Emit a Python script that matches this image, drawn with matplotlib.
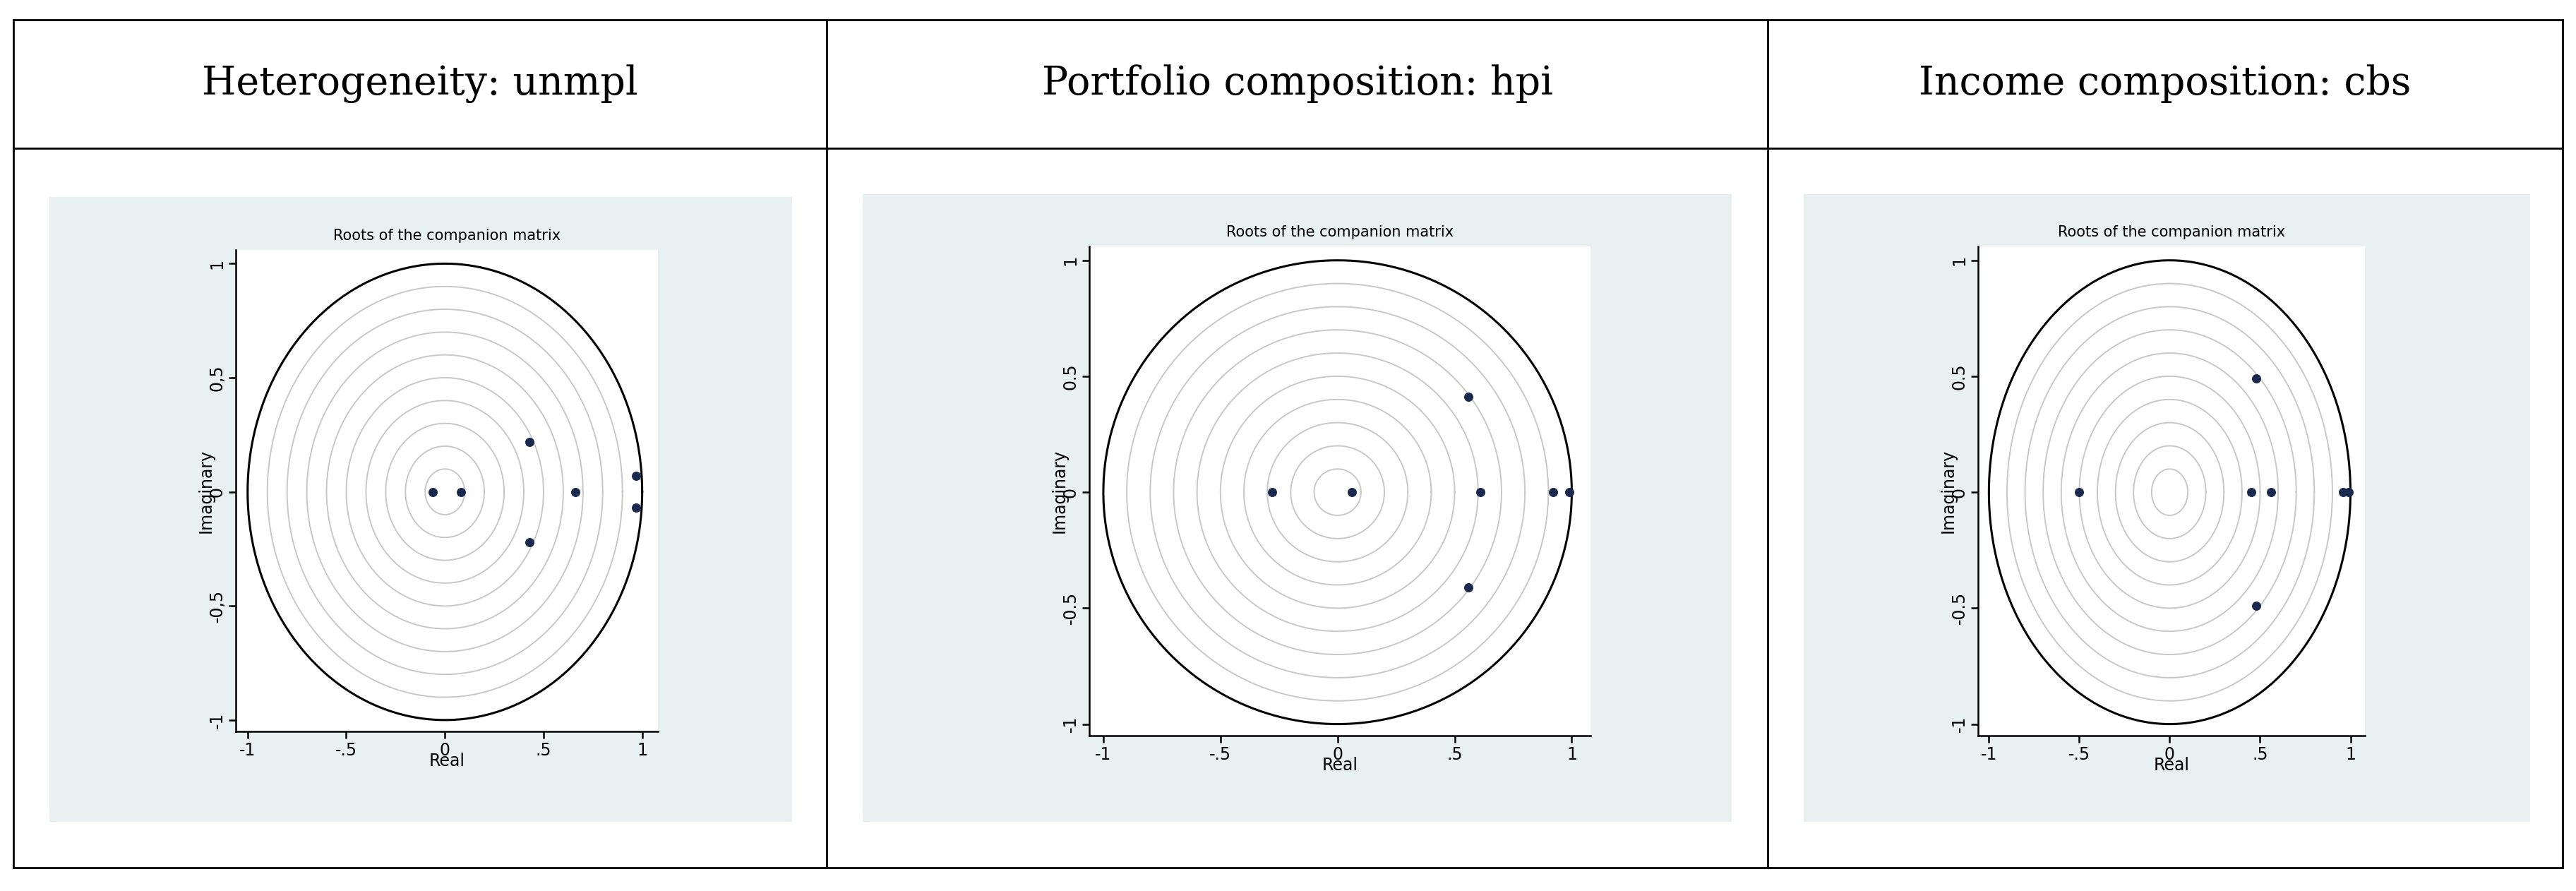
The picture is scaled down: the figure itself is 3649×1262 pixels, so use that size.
import numpy as np
import matplotlib.pyplot as plt

W, H = 3649, 1262
headers = ['Heterogeneity: unmpl', 'Portfolio composition: hpi', 'Income composition: cbs']

# eigenvalue roots (real, imaginary)
re1 = [-0.06, 0.08, 0.43, 0.43, 0.66, 0.97, 0.97]
im1 = [0.0, 0.0, 0.22, -0.22, 0.0, 0.07, -0.07]
re2 = [-0.28, 0.06, 0.56, 0.56, 0.61, 0.92, 0.99]
im2 = [0.0, 0.0, 0.41, -0.41, 0.0, 0.0, 0.0]
re3 = [-0.50, 0.45, 0.48, 0.48, 0.56, 0.96, 0.99]
im3 = [0.0, 0.0, 0.49, -0.49, 0.0, 0.0, 0.0]
roots = [(re1, im1), (re2, im2), (re3, im3)]

ytick_labels = [['-1', '-0,5', '0', '0,5', '1'],
                ['-1', '-0.5', '0', '0.5', '1'],
                ['-1', '-0.5', '0', '0.5', '1']]
xtick_labels = ['-1', '-.5', '0', '.5', '1']

fig = plt.figure(figsize=(W / 100, H / 100), dpi=100)

def box(x0, y0, x1, y1):
    # pixel box (top-left origin) -> figure fraction
    return [x0 / W, 1 - y1 / H, (x1 - x0) / W, (y1 - y0) / H]

# table grid
cols = [19, 1171, 2504, 3630]
top, mid, bot = 28, 210, 1229
for x in cols:
    fig.add_artist(plt.Line2D([x / W] * 2, [1 - top / H, 1 - bot / H], color='black', lw=2))
for y in (top, mid, bot):
    fig.add_artist(plt.Line2D([cols[0] / W, cols[-1] / W], [1 - y / H] * 2, color='black', lw=2))
for i, t in enumerate(headers):
    fig.text((cols[i] + cols[i + 1]) / 2 / W, 1 - (top + mid) / 2 / H, t,
             ha='center', va='center', fontsize=40, family='DejaVu Serif')

grey = [(70, 279, 1122, 1164), (1222, 275, 2453, 1164), (2555, 275, 3584, 1164)]
white = [(334, 354, 932, 1036), (1543, 349, 2253, 1042), (2802, 349, 3350, 1042)]

th = np.linspace(0, 2 * np.pi, 400)
for k in range(3):
    g = fig.add_axes(box(*grey[k]))
    g.set_facecolor('#e9f0f2')
    g.set_xticks([]); g.set_yticks([])
    for s in g.spines.values():
        s.set_visible(False)

    ax = fig.add_axes(box(*white[k]))
    for r in np.arange(0.1, 1.0, 0.1):
        ax.plot(r * np.cos(th), r * np.sin(th), color='#c8c8c8', lw=1.4)
    ax.plot(np.cos(th), np.sin(th), color='black', lw=2.2)
    ax.scatter(roots[k][0], roots[k][1], s=70, color='#1a2a4f', zorder=3)
    ax.set_xlim(-1.06, 1.08)
    ax.set_ylim(-1.05, 1.06)
    ax.set_xticks([-1, -0.5, 0, 0.5, 1])
    ax.set_xticklabels(xtick_labels, fontsize=17)
    ax.set_yticks([-1, -0.5, 0, 0.5, 1])
    ax.set_yticklabels(ytick_labels[k], fontsize=17, rotation=90, va='center')
    ax.spines['top'].set_visible(False)
    ax.spines['right'].set_visible(False)
    ax.spines['left'].set_linewidth(1.8)
    ax.spines['bottom'].set_linewidth(1.8)
    ax.tick_params(length=7, width=1.8)
    ax.set_xlabel('Real', fontsize=17, labelpad=-6)
    ax.set_ylabel('Imaginary', fontsize=17, labelpad=-6)
    ax.set_title('Roots of the companion matrix', fontsize=15, pad=10)

fig.savefig('out.png', dpi=100)
